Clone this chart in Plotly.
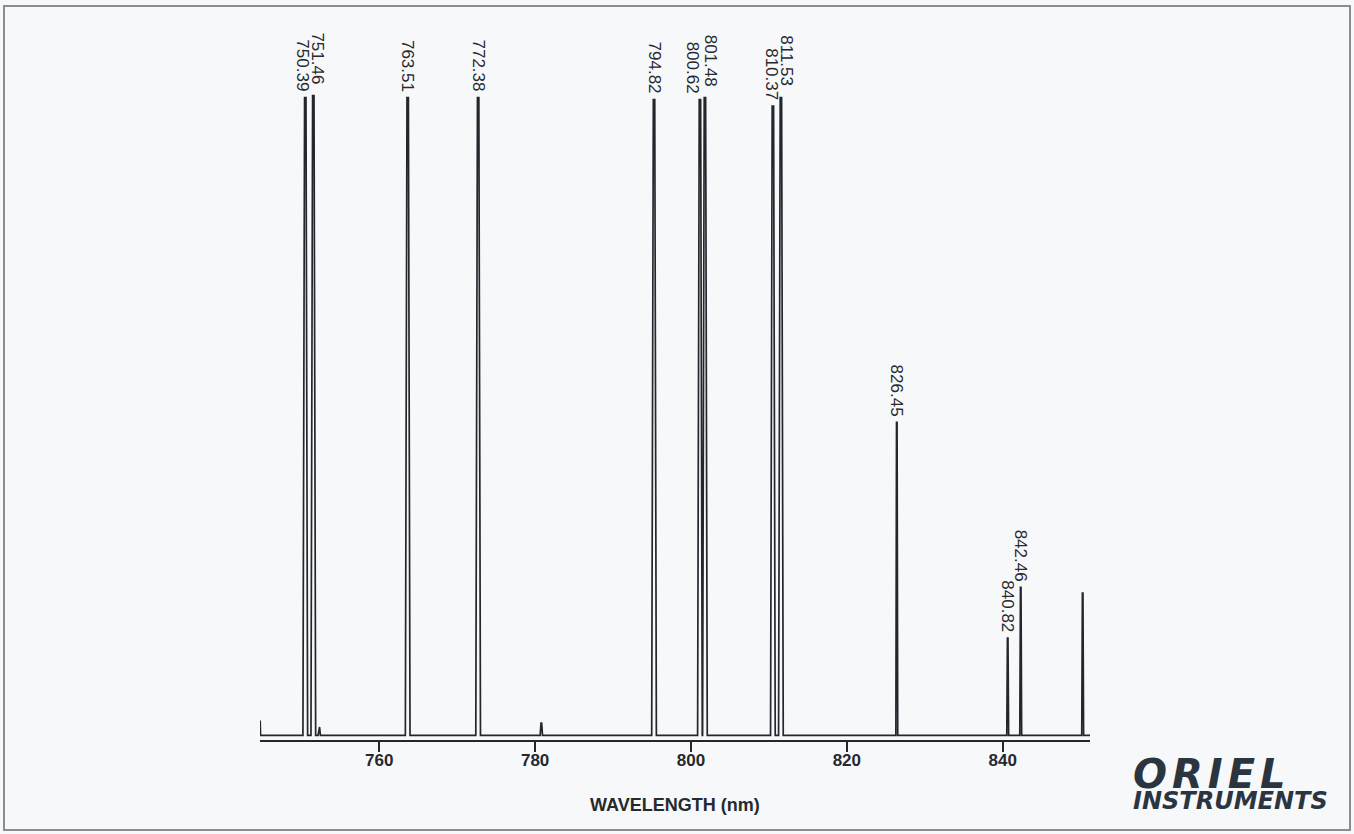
import plotly.graph_objects as go

# ---- data ----
peak_labels = ["750.39", "751.46", "763.51", "772.38", "794.82", "800.62",
               "801.48", "810.37", "811.53", "826.45", "840.82", "842.46", ""]
peak_pos = [750.51, 751.54, 763.65, 772.69, 795.26, 801.15,
            801.79, 810.51, 811.54, 826.41, 840.64, 842.31, 850.26]
peak_height = [98.9, 99.2, 98.9, 98.9, 98.6, 98.6,
               98.9, 97.6, 98.9, 48.9, 15.7, 23.5, 22.6]
minor_pos = [752.3, 780.8]
minor_height = [2.0, 2.6]
start_pos = 744.72
start_height = 3.0
end_pos = 851.2
baseline = 0.7
tick_vals = [760, 780, 800, 820, 840]

# ---- build the spectrum polyline from the peak list ----
all_peaks = sorted(
    [(p, h, 0.30 if h > 60 else 0.12) for p, h in zip(peak_pos, peak_height)]
    + [(p, h, 0.15) for p, h in zip(minor_pos, minor_height)]
)
xs = [start_pos, start_pos + 0.05]
ys = [start_height, baseline]
for c, h, w in all_peaks:
    xs += [c - w, c - w * 0.3, c + w * 0.3, c + w]
    ys += [baseline, h, h, baseline]
xs.append(end_pos)
ys.append(baseline)

# ---- layout geometry (pixels) ----
W, H = 1354, 834
L_PX, R_PX, T_PX, B_PX = 260, 1090, 84, 740


def px2x(p):
    return (p - L_PX) / (R_PX - L_PX)


def px2y(p):
    return (B_PX - p) / (B_PX - T_PX)


ink = "#23272d"
txt = "#26292e"
fig = go.Figure()
fig.add_trace(go.Scatter(x=xs, y=ys, mode="lines",
                         line=dict(color=ink, width=1.7),
                         hoverinfo="skip", showlegend=False))

label_xshift = {"750.39": -3, "751.46": 4, "800.62": -8, "801.48": 5,
                "810.37": -1, "811.53": 6}
label_yshift = {"751.46": 9, "801.48": 9, "811.53": 9}
annotations = []
for lab, p, h in zip(peak_labels, peak_pos, peak_height):
    if not lab:
        continue
    annotations.append(dict(
        x=p, y=h, xref="x", yref="y", text=lab, showarrow=False,
        textangle=90, yanchor="bottom", xanchor="center",
        xshift=label_xshift.get(lab, 0), yshift=label_yshift.get(lab, 4),
        font=dict(family="Liberation Sans, Arial", size=17, color=txt)))

# axis title
annotations.append(dict(
    x=px2x(675), y=px2y(805), xref="paper", yref="paper",
    text="<b>WAVELENGTH (nm)</b>", showarrow=False, xanchor="center", yanchor="middle",
    font=dict(family="Liberation Sans, Arial", size=18, color=txt)))

# logo (single two-line text)
logo_col = "#2b3540"
annotations.append(dict(
    x=px2x(1131), y=px2y(783), xref="paper", yref="paper",
    text=("<b><i><span style='font-size:40px;letter-spacing:5px'>ORIEL</span>"
          "<br><span style='font-size:24px'>INSTRUMENTS</span></i></b>"),
    showarrow=False, xanchor="left", yanchor="middle", align="left",
    font=dict(family="DejaVu Sans", size=16, color=logo_col)))

shapes = [dict(type="rect", xref="paper", yref="paper",
               x0=px2x(4), x1=px2x(1350), y0=px2y(830), y1=px2y(6),
               line=dict(color="#8a8c90", width=2), fillcolor="rgba(0,0,0,0)",
               layer="below")]

fig.update_layout(
    width=W, height=H,
    margin=dict(l=L_PX, r=W - R_PX, t=T_PX, b=H - B_PX),
    paper_bgcolor="#f7f8fa", plot_bgcolor="#f7f8fa",
    xaxis=dict(range=[744.7, 851.2], tickvals=tick_vals,
               showline=True, linecolor=ink, linewidth=2,
               ticks="outside", ticklen=10, tickwidth=2, tickcolor=ink,
               ticklabelstandoff=-6,
               showgrid=False, zeroline=False,
               tickfont=dict(family="Liberation Sans, Arial", size=17,
                             color=txt, weight="bold")),
    yaxis=dict(range=[0, 101], visible=False, showgrid=False, zeroline=False),
    annotations=annotations, shapes=shapes, showlegend=False,
)

fig.write_html("out.html")
